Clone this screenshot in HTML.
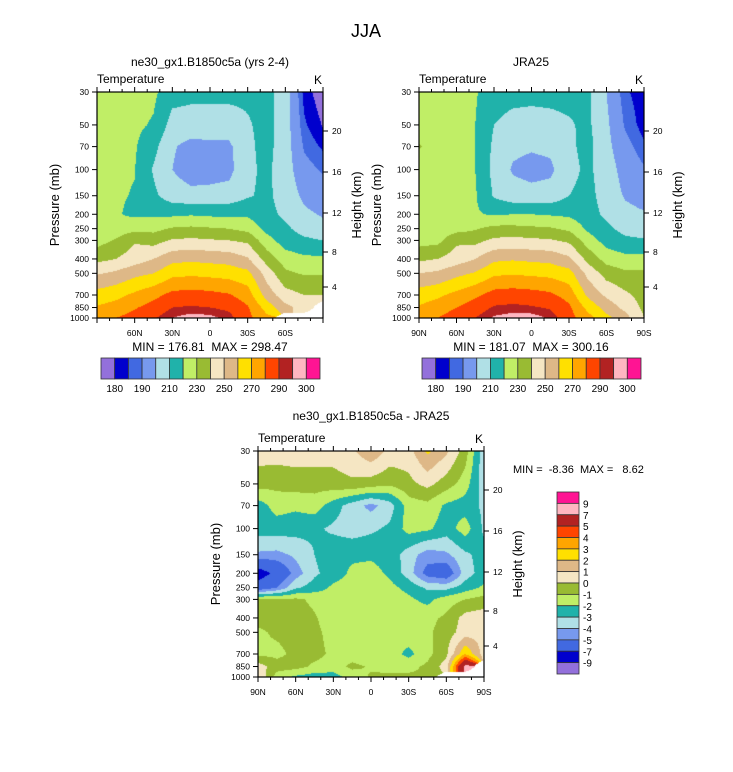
<!DOCTYPE html>
<html><head><meta charset="utf-8">
<style>
html,body{margin:0;padding:0;background:#fff;}
body{width:733px;height:772px;position:relative;overflow:hidden;font-family:"Liberation Sans",Arial,sans-serif;}
canvas{position:absolute;}
svg{position:absolute;left:0;top:0;}
text{white-space:pre;}
</style></head>
<body>
<canvas id="c1" style="left:97px;top:92px" width="226" height="226"></canvas>
<canvas id="c2" style="left:419px;top:92px" width="225" height="226"></canvas>
<canvas id="c3" style="left:258px;top:451px" width="226" height="226"></canvas>
<svg id="ov" width="733" height="772"></svg>
<script>
const lats=[90,75,60,45,30,15,0,-15,-30,-45,-60,-75,-90];
const levels=[1000,850,700,500,400,300,250,200,150,100,70,50,30];
const N=NaN;
const modelT=[
[276,280,284,289,295,298,297,293,283,273,N,N,N],
[271,274,279,284,290,291,290,288,281,266,253,246,N],
[264,267,272,277,283,284,283,281,275,256,244,240,240],
[249,252,257,260,267,268,267,266,263,246,232,229,229],
[237,240,245,250,257,258,257,256,251,236,225,222,222],
[226,231,239,236,241,242,241,240,238,224,215,212,210],
[222,224,227,227,231,232,231,230,227,217,212,206,203],
[222,221,218,218,218,219,218,218,218,213,208,202,199],
[222,221,219.5,212,205,203,203,204,209,212,206,198,194],
[222,221,220.3,209,200,195,196,197,208,212,205,193,189],
[222,222,221,213,201,197,198,198,208,213,205,189,184],
[222,222,222,219,206,205,205,205,209,213,205,186,179.5],
[223,223,223,222,214,213,213,213,212,213,205,183,176]];
const jraT=[
[277,280,285,290,296,298,298,294,284,274,263,254,240],
[271,275,280,285,291,292,291,289,282,267,256,247,238],
[265,268,273,278,284,285,284,282,276,258,248,242,236],
[250,252,257,261,268,269,268,267,264,247,236,232,232],
[238,240,245,250,258,259,258,257,252,237,226,223,223],
[226,227,238,237,242,243,242,241,238,225,216,212,211],
[222,223,226,229,233,233,232,231,228,218,212,207,205],
[222,223,222,221,219,220,220,219,218,214,208,203,201],
[223,223,222,221,209,204,203,204,210,213,206,199,196],
[222,223,222,220,207,199,197,198,207,212,205,196,191],
[231,224,222,220,208,202,201,202,208,213,203,193,186],
[223,223,222,220,210,207,206,207,209,212,202,189,182.5],
[223,223,223,221,214,213,213,213,213,212,200,186,182]];
const diffT=[
[1,-1.5,-2.2,-2.5,-2.5,-1.5,-0.9,-0.8,-0.8,-0.9,N,N,N],
[0.5,-0.5,-0.6,-1.2,-1.4,-0.8,-1.1,-1.3,-1.3,-0.8,0.5,7.5,N],
[-1.2,-1.3,-0.7,-0.7,-1.2,-1.4,-1.5,-1.5,-2.3,-1.3,-0.2,3,0.5],
[-1.2,-0.8,-0.6,-0.8,-1.3,-1.4,-1.1,-1.4,-1.4,-1.2,-0.5,0.5,0.7],
[-0.6,-0.7,-0.6,-0.9,-1.5,-1.5,-1.5,-1.5,-1.5,-1.3,-0.8,0.4,0.6],
[-0.8,-0.8,-0.8,-1.2,-1.6,-1.4,-1.5,-1.5,-1.8,-2.3,-1.5,-1.0,-0.6],
[-6,-5,-3.2,-2.5,-1.8,-1.5,-1.5,-1.7,-2.3,-3.2,-3.3,-2.5,-1.8],
[-8,-6.5,-4.5,-3.2,-2.5,-1.8,-1.6,-2.2,-3.5,-5.5,-6,-3.5,-2.5],
[-4.2,-4.3,-3.8,-3,-2.3,-2.2,-2.2,-2.4,-3.5,-4.5,-4.2,-3.2,-2.6],
[-2.5,-2.5,-2.6,-2.8,-3.2,-3.5,-3.2,-2.8,-1.6,-1.8,-2.5,-1.5,-3.2],
[-2.5,-1.6,-1.8,-1.5,-2.5,-3.5,-4.3,-3.5,-1.5,-1.3,-2.2,-2.5,-3.2],
[-0.6,-0.7,-0.5,-0.6,-0.4,-0.2,-0.5,-0.8,-0.3,0.3,-0.5,-1.5,-3.6],
[0.5,0.5,0.5,0.6,0.4,0.8,1.8,0.7,0.6,2.2,1.2,-0.5,-3.7]];
const tempBounds=[180,185,190,200,210,220,230,240,250,260,270,280,290,295,300];
const diffBounds=[-9,-7,-5,-4,-3,-2,-1,0,1,2,3,4,5,7,9];
const tempBarLabels=["180","190","210","230","250","270","290","300"];
const diffBarLabels=["9","7","5","4","3","2","1","0","-1","-2","-3","-4","-5","-7","-9"];
const pTicks=[1000,850,700,500,400,300,250,200,150,100,70,50,30];
const hTicks=[20,16,12,8,4];
const hOffsets=[187,146,105,66,31];
const latLabels=["90N","60N","30N","0","30S","60S","90S"];
const palette=["#9370DB","#0000CD","#4169E1","#7799EE","#B0E0E6","#20B2AA","#C0EE66","#99BB33","#F5E6C3","#DEB887","#FFE000","#FFA500","#FF4500","#B22222","#FFB6C1","#FF1493"];
const L=Math.log(1000/30);
function hex(c){return [parseInt(c.substr(1,2),16),parseInt(c.substr(3,2),16),parseInt(c.substr(5,2),16)];}
const rgb=palette.map(hex);
function drawField(id,data,bounds){
  const cv=document.getElementById(id),ctx=cv.getContext('2d');
  const W=cv.width,H=cv.height,img=ctx.createImageData(W,H);
  const lv=levels.map(p=>Math.log(1000/p));
  for(let py=0;py<H;py++){
    const v=(H-0.5-py)/H*L;
    let k=0;while(k<lv.length-2&&v>lv[k+1])k++;
    const fy=Math.max(0,Math.min(1,(v-lv[k])/(lv[k+1]-lv[k])));
    for(let px=0;px<W;px++){
      const fi=(px+0.5)/W*(lats.length-1);
      let i=Math.min(lats.length-2,Math.floor(fi));const fx=fi-i;
      const c=[[data[k][i],(1-fx)*(1-fy)],[data[k][i+1],fx*(1-fy)],[data[k+1][i],(1-fx)*fy],[data[k+1][i+1],fx*fy]];
      let s=0,w=0,bad=0;
      c.forEach(([val,wt])=>{if(isNaN(val))bad+=wt;else{s+=val*wt;w+=wt;}});
      const o=(py*W+px)*4;
      if(bad>0.5){img.data[o]=img.data[o+1]=img.data[o+2]=255;img.data[o+3]=255;continue;}
      const val=s/w;let b=0;while(b<bounds.length&&val>=bounds[b])b++;
      const col=rgb[b];img.data[o]=col[0];img.data[o+1]=col[1];img.data[o+2]=col[2];img.data[o+3]=255;
    }
  }
  ctx.putImageData(img,0,0);
}
drawField('c1',modelT,tempBounds);
drawField('c2',jraT,tempBounds);
drawField('c3',diffT,diffBounds);

const svg=document.getElementById('ov');const NS='http://www.w3.org/2000/svg';
function el(t,a,txt){const e=document.createElementNS(NS,t);for(const k in a)e.setAttribute(k,a[k]);if(txt!==undefined)e.textContent=txt;svg.appendChild(e);return e;}
function text(x,y,s,size,anchor,name,extra){const e=el('text',Object.assign({x:x,y:y,'font-size':size,'text-anchor':anchor||'start','font-family':'Liberation Sans, Arial, sans-serif',fill:'#000'},extra||{}),s);

return e;}
function axes(x0,y0,w,h,opt){
  const f=el('rect',{x:x0,y:y0,width:w,height:h,fill:'none',stroke:'#000','stroke-width':1.2});
  
  
  const yb=y0+h;
  pTicks.forEach(p=>{const y=yb-h*Math.log(1000/p)/L;
    el('line',{x1:x0-5,y1:y,x2:x0,y2:y,stroke:'#000','stroke-width':1});
    text(x0-8,y+3,String(p),8.5,'end',opt.n+'-pressure-tick-label');});
  hTicks.forEach((z,i)=>{const y=yb-hOffsets[i];
    el('line',{x1:x0+w,y1:y,x2:x0+w+5,y2:y,stroke:'#000','stroke-width':1});
    text(x0+w+9,y+3,String(z),8.5,'start',opt.n+'-height-tick-label');});
  for(let d=0;d<=180;d+=10){const x=x0+w*d/180,maj=d%30===0,len=maj?5:3;
    el('line',{x1:x,y1:yb,x2:x,y2:yb+len,stroke:'#000','stroke-width':1});
    el('line',{x1:x,y1:y0,x2:x,y2:y0-len,stroke:'#000','stroke-width':1});
    if(maj){const lab=latLabels[d/30];if(opt.all||(d>0&&d<180))text(x,yb+18,lab,8.5,'middle',opt.n+'-latitude-tick-label');}}
  text(x0,y0-9,'Temperature',12,'start',opt.n+'-variable-label');
  text(x0+w-1,y0-8,'K',12,'end',opt.n+'-units-label');
  text(x0-38,y0+h/2,'Pressure (mb)',13,'middle',opt.n+'-y-axis-title',{transform:`rotate(-90 ${x0-38} ${y0+h/2})`});
  text(x0+w+38,y0+h/2,'Height (km)',13,'middle',opt.n+'-right-axis-title',{transform:`rotate(-90 ${x0+w+38} ${y0+h/2})`});
}
text(366,37,'JJA',18,'middle','figure-title');
text(210,66,'ne30_gx1.B1850c5a (yrs 2-4)',12,'middle','model-panel-title');
text(531,66,'JRA25',12,'middle','jra25-panel-title');
text(371,420,'ne30_gx1.B1850c5a - JRA25',12,'middle','difference-panel-title');
axes(97,92,226,226,{n:'model',all:false});
axes(419,92,225,226,{n:'jra25',all:true});
axes(258,451,226,226,{n:'difference',all:true});
text(210,351,'MIN = 176.81  MAX = 298.47',12,'middle','model-min-max');
text(531,351,'MIN = 181.07  MAX = 300.16',12,'middle','jra25-min-max');
text(513,473,'MIN =  -8.36  MAX =   8.62',11,'start','difference-min-max');
function hbar(x0,name){const w=219,bw=w/16;
  palette.forEach((c,i)=>{const r=el('rect',{x:x0+i*bw,y:358,width:bw,height:21,fill:c,stroke:'#333','stroke-width':0.8});
  
  });
  tempBarLabels.forEach((s,j)=>text(x0+(2*j+1)*bw,392,s,10,'middle',name+'-label'));}
hbar(101,'model-colorbar');hbar(422,'jra25-colorbar');
(function(){const x0=557,y0=492,bh=182/16;
  palette.slice().reverse().forEach((c,i)=>{const r=el('rect',{x:x0,y:y0+i*bh,width:22,height:bh,fill:c,stroke:'#333','stroke-width':0.8});
  
  });
  diffBarLabels.forEach((s,j)=>text(x0+26,y0+(j+1)*bh+4,s,10,'start','difference-colorbar-label'));})();
</script>
</body></html>
